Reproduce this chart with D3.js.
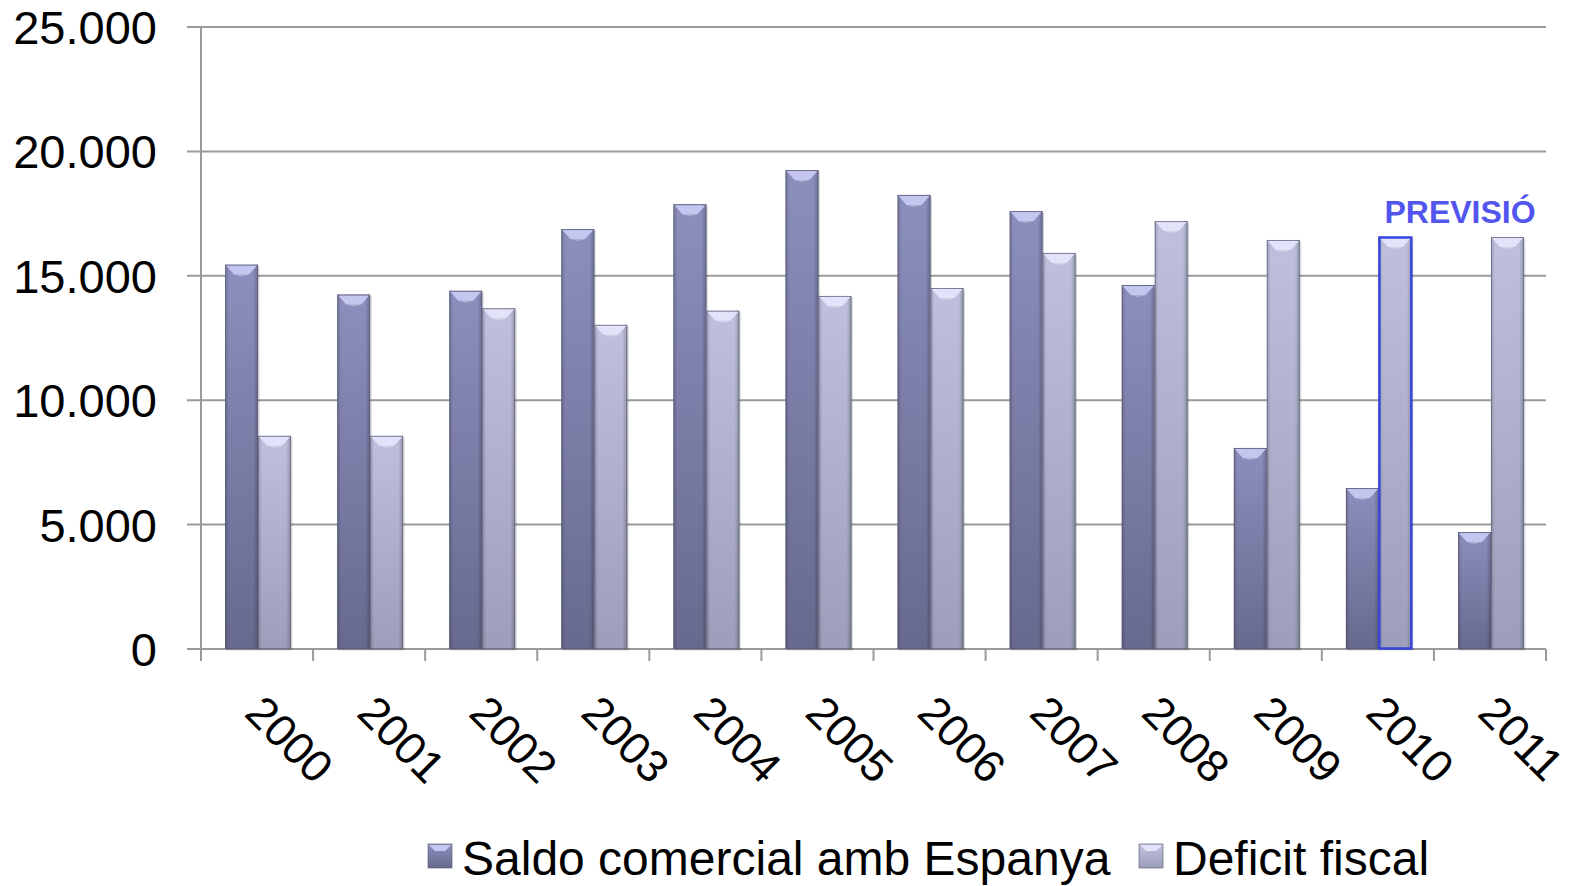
<!DOCTYPE html>
<html>
<head>
<meta charset="utf-8">
<script src="https://cdn.jsdelivr.net/npm/d3@7"></script>
<style>
  body { margin: 0; background: #fff; }
  text { font-family: "Liberation Sans", Arial, sans-serif; }
</style>
</head>
<body>
<div id="chart"></div>
<script>
const years = ['2000','2001','2002','2003','2004','2005','2006','2007','2008','2009','2010','2011']
const saldo = [15450, 14250, 14400, 16880, 17880, 19250, 18250, 17600, 14630, 8080, 6470, 4700]
const deficit = [8570, 8570, 13700, 13030, 13600, 14190, 14510, 15920, 17200, 16440, 16560, 16560]
const seriesNames = ['Saldo comercial amb Espanya', 'Deficit fiscal']
const yTicks = [0, 5000, 10000, 15000, 20000, 25000]

const W = 1574, H = 886
const margin = {left: 201, right: 28, top: 27, bottom: 237}

const svg = d3.select('#chart').append('svg')
  .attr('width', W).attr('height', H)
  .attr('viewBox', [0, 0, W, H])

const defs = svg.append('defs')
function barGradient(id, top, bottom) {
  let g = defs.append('linearGradient').attr('id', id)
    .attr('x1', 0).attr('y1', 0).attr('x2', 0).attr('y2', 1)
  g.append('stop').attr('offset', '0%').attr('stop-color', top)
  g.append('stop').attr('offset', '100%').attr('stop-color', bottom)
}
barGradient('g0', '#8c8ebd', '#676a8e')
barGradient('g1', '#bec0de', '#9c9eba')
// side shading overlay
let side = defs.append('linearGradient').attr('id', 'side')
  .attr('x1', 0).attr('y1', 0).attr('x2', 1).attr('y2', 0)
side.append('stop').attr('offset', '0%').attr('stop-color', '#000').attr('stop-opacity', 0.18)
side.append('stop').attr('offset', '12%').attr('stop-color', '#000').attr('stop-opacity', 0)
side.append('stop').attr('offset', '85%').attr('stop-color', '#000').attr('stop-opacity', 0)
side.append('stop').attr('offset', '100%').attr('stop-color', '#000').attr('stop-opacity', 0.22)

const x = d3.scaleBand().domain(years).range([margin.left, W - margin.right]).paddingInner(0).paddingOuter(0)
const y = d3.scaleLinear().domain([0, 25000]).range([H - margin.bottom, margin.top])

const fmt = d => d3.format(',')(d).replace(/,/g, '.')

// gridlines
svg.append('g').selectAll('line').data(yTicks).join('line')
  .attr('x1', margin.left - 14).attr('x2', W - margin.right)
  .attr('y1', d => y(d)).attr('y2', d => y(d))
  .attr('stroke', '#9a9a9a').attr('stroke-width', 2)

svg.append('line')
  .attr('x1', margin.left).attr('x2', margin.left)
  .attr('y1', y(25000)).attr('y2', y(0) + 12)
  .attr('stroke', '#9a9a9a').attr('stroke-width', 2)

// x ticks
svg.append('g').selectAll('line').data(years.concat(['end'])).join('line')
  .attr('x1', (d, i) => margin.left + i * x.bandwidth())
  .attr('x2', (d, i) => margin.left + i * x.bandwidth())
  .attr('y1', y(0)).attr('y2', y(0) + 12)
  .attr('stroke', '#9a9a9a').attr('stroke-width', 2)

svg.append('g').selectAll('text').data(yTicks).join('text')
  .attr('x', 157).attr('y', d => y(d))
  .attr('dy', '0.36em')
  .attr('text-anchor', 'end')
  .attr('font-size', 47)
  .attr('fill', '#000')
  .text(fmt)

const x1 = d3.scaleBand().domain([0, 1]).range([0, x.bandwidth()]).paddingOuter(0.7).paddingInner(0)

const data = []
years.forEach((yr, i) => {
  data.push({year: yr, s: 0, v: saldo[i]})
  data.push({year: yr, s: 1, v: deficit[i]})
})

const bars = svg.append('g').selectAll('g').data(data).join('g')
  .attr('transform', d => `translate(${x(d.year) + x1(d.s) + 1},0)`)

const bw = x1.bandwidth()
bars.append('rect')
  .attr('x', 1.5).attr('y', d => y(d.v) + 1.5)
  .attr('width', bw).attr('height', d => y(0) - y(d.v))
  .attr('fill', '#000').attr('opacity', 0.15)
bars.append('rect')
  .attr('x', 0).attr('y', d => y(d.v))
  .attr('width', bw).attr('height', d => y(0) - y(d.v))
  .attr('fill', d => `url(#g${d.s})`)
bars.append('rect')
  .attr('x', 0).attr('y', d => y(d.v))
  .attr('width', bw).attr('height', d => y(0) - y(d.v))
  .attr('fill', 'url(#side)')
// top bevel
bars.append('path')
  .attr('d', d => {
    let t = y(d.v)
    return `M1,${t + 1}L${bw - 1},${t + 1}L${bw - 9},${t + 10}L9,${t + 10}Z`
  })
  .attr('fill', d => d.s === 0 ? '#c4c6f0' : '#e2e3f8')
bars.append('path')
  .attr('d', d => {
    let t = y(d.v)
    return `M9,${t + 10}L${bw - 9},${t + 10}L${bw / 2},${t + 12}Z`
  })
  .attr('fill', '#fff').attr('opacity', 0.3)
bars.append('rect')
  .attr('x', 0.5).attr('y', d => y(d.v) + 0.5)
  .attr('width', bw - 1).attr('height', d => y(0) - y(d.v) - 1)
  .attr('fill', 'none')
  .attr('stroke', d => (d.year === '2010' && d.s === 1) ? '#3845dd' : '#555870')
  .attr('stroke-width', d => (d.year === '2010' && d.s === 1) ? 2.5 : 1)
  .attr('stroke-opacity', d => (d.year === '2010' && d.s === 1) ? 1 : 0.6)

// x labels
svg.append('g').selectAll('text').data(years).join('text')
  .attr('transform', d => `translate(${x(d) + x.bandwidth() / 2 - 14},${y(0) + 66}) rotate(45)`)
  .attr('font-size', 45)
  .attr('fill', '#000')
  .text(d => d)

svg.append('text')
  .attr('x', 1460).attr('y', 211)
  .attr('dy', '0.36em')
  .attr('text-anchor', 'middle')
  .attr('font-size', 32)
  .attr('font-weight', 'bold')
  .attr('fill', '#5256ee')
  .text('PREVISIÓ')

// legend
const legendX = [428, 1139]
const leg = svg.append('g').selectAll('g').data(seriesNames).join('g')
  .attr('transform', (d, i) => `translate(${legendX[i]},844)`)
leg.append('rect')
  .attr('width', 24).attr('height', 24)
  .attr('fill', (d, i) => `url(#g${i})`)
  .attr('stroke', '#555870').attr('stroke-opacity', 0.6)
leg.append('path')
  .attr('d', 'M1,1L23,1L17,7L7,7Z')
  .attr('fill', (d, i) => i === 0 ? '#c4c6f0' : '#e2e3f8')
leg.append('text')
  .attr('x', 34).attr('y', 14)
  .attr('dy', '0.36em')
  .attr('font-size', 48)
  .attr('fill', '#000')
  .text(d => d)
</script>
</body>
</html>
